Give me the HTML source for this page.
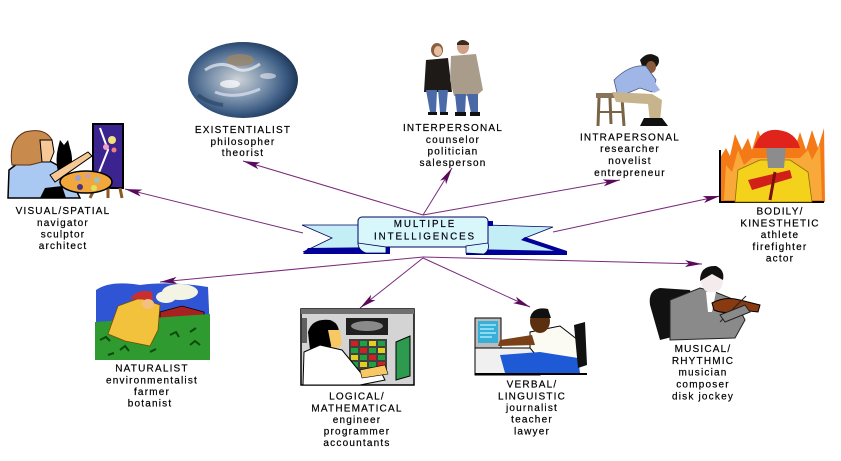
<!DOCTYPE html>
<html><head><meta charset="utf-8"><style>
html,body{margin:0;padding:0;background:#fff;}
svg{display:block}
text{font-family:"Liberation Sans",Arial,sans-serif;font-size:10px;letter-spacing:1.2px;fill:#000;stroke:#000;stroke-width:0.2px;text-anchor:middle}
</style></head><body>
<svg width="841" height="461" viewBox="0 0 841 461" xmlns="http://www.w3.org/2000/svg">
<defs>
<marker id="ah" markerUnits="userSpaceOnUse" markerWidth="18" markerHeight="8" refX="17" refY="4" orient="auto">
<path d="M0,0.5 L17,4 L0,7.5 L4,4 Z" fill="#5a0a5a"/>
</marker>
<radialGradient id="gg" cx="0.45" cy="0.5" r="0.55">
<stop offset="0" stop-color="#d0d4d8"/>
<stop offset="0.45" stop-color="#7d93ad"/>
<stop offset="0.8" stop-color="#3a5a82"/>
<stop offset="1" stop-color="#1e3656"/>
</radialGradient>
</defs>
<rect width="841" height="461" fill="#fff"/>

<!-- connectors -->
<g stroke="#7a2a7a" stroke-width="1" fill="none" marker-end="url(#ah)">
<line x1="423" y1="215" x2="243" y2="161"/>
<line x1="303" y1="233" x2="125" y2="189"/>
<line x1="423" y1="215" x2="452" y2="168"/>
<line x1="423" y1="215" x2="620" y2="180"/>
<line x1="553" y1="232" x2="720" y2="196"/>
<line x1="423" y1="257" x2="160" y2="282"/>
<line x1="423" y1="258" x2="360" y2="308"/>
<line x1="423" y1="258" x2="530" y2="307"/>
<line x1="423" y1="257" x2="702" y2="264"/>
</g>

<!-- ribbon -->
<path d="M302,225 L362,225 L362,250 L303,252 L332,238 Z" fill="#c4eef6" stroke="#000066" stroke-width="0.8"/>
<path d="M308,248 L390,247 L390,254 L303,254 Z" fill="#000099"/>
<path d="M486,225 L553,227 L525,238 L567,253 L486,253 Z" fill="#c4eef6" stroke="#000066" stroke-width="0.8"/>
<path d="M525,237 L567,251 L567,255 L521,240 Z" fill="#000099"/>
<path d="M466,249 L567,251 L567,255 L466,255 Z" fill="#000099"/>
<rect x="358" y="217" width="130" height="30" rx="4" fill="#d8f7fa" stroke="#000066" stroke-width="1"/>
<rect x="488" y="221" width="5" height="5" fill="#000099"/>
<path d="M358,243 L386,247 L386,253 L366,253 Q358,250 358,243Z" fill="#d8f7fa" stroke="#000066" stroke-width="0.8"/>
<path d="M488,243 L466,246 L466,253 L484,254 Q490,250 488,243Z" fill="#d8f7fa" stroke="#000066" stroke-width="0.8"/>
<text x="425" y="227" style="font-size:9.8px;letter-spacing:1.9px;fill:#000022">MULTIPLE</text>
<text x="425" y="239.5" style="font-size:9.8px;letter-spacing:1.9px;fill:#000022">INTELLIGENCES</text>

<!-- globe -->
<ellipse cx="243" cy="80" rx="55" ry="38" fill="url(#gg)"/>
<ellipse cx="240" cy="60" rx="14" ry="6" fill="#9a8468" opacity=".8"/>
<path d="M205,70 q15,-10 30,-2 q10,6 25,-4" stroke="#fff" stroke-width="3" fill="none" opacity=".6"/>
<path d="M215,92 q20,8 45,-3" stroke="#eef" stroke-width="3" fill="none" opacity=".6"/>
<ellipse cx="230" cy="84" rx="10" ry="4" fill="#fff" opacity=".7"/>
<ellipse cx="268" cy="76" rx="8" ry="3" fill="#fff" opacity=".5"/>
<path d="M198,95 q10,8 25,10" stroke="#24405f" stroke-width="4" fill="none" opacity=".6"/>

<!-- visual/spatial -->
<rect x="93" y="124" width="30" height="64" fill="#3b2490" stroke="#000" stroke-width="2"/>
<path d="M100,128 L108,150 L98,175" stroke="#fff" stroke-width="2" fill="none"/>
<circle cx="112" cy="140" r="4" fill="#f2e27a"/><circle cx="106" cy="147" r="3" fill="#f0a0c0"/><circle cx="114" cy="150" r="2.5" fill="#f08080"/>
<path d="M95,188 L90,198 M120,188 L122,198 M108,188 L108,198" stroke="#8a5a20" stroke-width="3"/>
<path d="M8,198 L9,170 L22,160 L48,160 L66,170 L80,198 Z" fill="#a9c8f2" stroke="#000" stroke-width="1.5"/>
<path d="M12,165 Q8,140 25,132 Q45,127 52,140 L50,160 L30,165 Z" fill="#c98a4e" stroke="#5a3010" stroke-width="1"/>
<path d="M40,140 L52,140 L54,152 L50,162 L42,162 Z" fill="#f6c896" stroke="#000" stroke-width="1"/>
<path d="M58,148 L60,140 L64,145 L68,140 L70,148 Q74,160 70,172 L58,172 Q55,160 58,148Z" fill="#000"/>
<path d="M50,175 L88,152 L92,156 L55,182 Z" fill="#f6c896" stroke="#000" stroke-width="1"/>
<ellipse cx="86" cy="182" rx="26" ry="11" fill="#f0a83c" stroke="#000" stroke-width="1.5"/>
<circle cx="78" cy="178" r="3" fill="#a0a0d0"/><circle cx="88" cy="176" r="3" fill="#d0a0a0"/>
<circle cx="97" cy="180" r="3" fill="#a0c0c0"/><circle cx="80" cy="187" r="3" fill="#503080"/><circle cx="94" cy="188" r="3" fill="#e0e060"/>
<path d="M45,188 L62,186 L66,198 L40,198 Z" fill="#000"/>

<!-- interpersonal -->
<ellipse cx="437" cy="50" rx="6" ry="7" fill="#8a6040"/>
<ellipse cx="438" cy="51" rx="4" ry="5" fill="#e8c0a0"/>
<path d="M426,60 L448,58 L452,92 L424,92 Z" fill="#1e1a18"/>
<path d="M426,90 L437,90 L436,112 L430,112 Z M438,90 L448,90 L446,112 L440,112 Z" fill="#4a6aa8"/>
<ellipse cx="463" cy="47" rx="6" ry="7" fill="#d0a088"/>
<path d="M457,43 q5,-6 12,0 v2 h-12z" fill="#3a2a20"/>
<path d="M451,56 L476,54 L483,90 L476,96 L454,96 L450,80 Z" fill="#aa9c8a"/>
<path d="M455,94 L466,94 L465,113 L457,113 Z M467,94 L478,94 L478,113 L471,113 Z" fill="#4a68a6"/>
<path d="M428,112 h9 v3 h-9z M440,112 h8 v3 h-8z M455,112 h11 v4 h-11z M470,112 h10 v4 h-10z" fill="#111"/>

<!-- intrapersonal -->
<path d="M640,60 q8,-10 18,-3 q3,6 -3,11 l-12,1 z" fill="#1a1410"/>
<ellipse cx="651" cy="67" rx="5" ry="6" fill="#8a5a3a"/>
<path d="M614,80 Q630,64 646,66 L656,80 L652,92 L640,88 L618,97 Z" fill="#9fb6e6" stroke="#4a5a80" stroke-width="0.8"/>
<path d="M646,70 L660,90 L654,93 L642,78Z" fill="#9fb6e6"/>
<rect x="596" y="93" width="30" height="5" fill="#8a7458"/>
<path d="M599,98 L598,126 M622,98 L624,126 M610,98 L611,124" stroke="#7a6448" stroke-width="3"/>
<path d="M599,112 H623" stroke="#7a6448" stroke-width="2"/>
<path d="M612,92 L652,94 L662,100 L660,122 L650,122 L648,104 L616,102 Z" fill="#c8b48c"/>
<path d="M644,118 L662,118 L668,126 L640,126Z" fill="#111"/>

<!-- bodily -->
<path d="M720,202 L720,158 L726,148 L730,156 L735,134 L742,150 L748,138 L752,150 L758,130 L764,146 L772,132 L790,135 L795,148 L800,132 L806,150 L812,130 L818,148 L824,128 L825,202 Z" fill="#f47a18"/>
<path d="M724,200 L726,165 L732,172 L738,150 L744,165 L752,158 L800,158 L808,150 L812,160 L820,145 L822,200 Z" fill="#f9a83a"/>
<path d="M720,150 V202 H824" stroke="#000" stroke-width="2" fill="none"/>
<path d="M735,202 L738,170 L760,160 L790,160 L808,172 L812,202 Z" fill="#f4d21c" stroke="#8a7000" stroke-width="0.8"/>
<path d="M766,145 L786,145 L784,168 L768,168Z" fill="#8c8c8c"/>
<path d="M754,148 Q760,128 778,130 Q796,132 800,148 Z" fill="#e0241c"/>
<path d="M748,180 L790,170 L792,178 L752,190 Z" fill="#d02018"/>
<path d="M775,172 L770,200" stroke="#7a1010" stroke-width="3"/>

<!-- naturalist -->
<path d="M96,290 Q110,280 140,285 Q170,281 208,287 L210,332 L96,332 Z" fill="#2f55d4"/>
<ellipse cx="180" cy="292" rx="18" ry="8" fill="#f4f4e4"/>
<ellipse cx="166" cy="297" rx="10" ry="6" fill="#f4f4e4"/>
<path d="M160,312 L182,306 L204,312 L204,326 L160,326 Z" fill="#a82020" stroke="#000" stroke-width="0.8"/>
<path d="M95,322 L210,314 L210,360 L95,360 Z" fill="#2f9a2f"/>
<path d="M100,340 l6,-3 l4,4 M120,350 l5,-4 l4,5 M170,335 l6,-3 l3,5 M190,345 l5,-4 l5,4 M150,352 l6,-3 M108,355 l6,-2 M196,328 l-6,4" stroke="#0c4a0c" stroke-width="2" fill="none"/>
<path d="M108,334 L118,306 L140,298 L160,305 L158,330 L150,346 L125,341 Z" fill="#f2c23c" stroke="#7a4a00" stroke-width="0.8"/>
<path d="M130,299 Q138,288 152,292 L153,300 Z" fill="#c83030"/>
<ellipse cx="148" cy="304" rx="6" ry="5" fill="#f2c080"/>

<!-- logical -->
<rect x="301" y="309" width="113" height="76" fill="#d4d4d4" stroke="#000" stroke-width="1.5"/>
<rect x="301" y="309" width="113" height="5" fill="#707070"/>
<rect x="346" y="318" width="42" height="17" fill="#202020"/>
<ellipse cx="367" cy="326" rx="16" ry="5" fill="#8a8a8a"/>
<rect x="349" y="339" width="38" height="32" fill="#404040"/>
<g>
<rect x="351" y="341" width="7" height="5" fill="#d02020"/><rect x="360" y="341" width="7" height="5" fill="#20a040"/><rect x="369" y="341" width="7" height="5" fill="#e0d020"/><rect x="378" y="341" width="7" height="5" fill="#20a040"/>
<rect x="351" y="348" width="7" height="5" fill="#20a040"/><rect x="360" y="348" width="7" height="5" fill="#d02020"/><rect x="369" y="348" width="7" height="5" fill="#20a040"/><rect x="378" y="348" width="7" height="5" fill="#e0d020"/>
<rect x="351" y="355" width="7" height="5" fill="#e0d020"/><rect x="360" y="355" width="7" height="5" fill="#20a040"/><rect x="369" y="355" width="7" height="5" fill="#d02020"/><rect x="378" y="355" width="7" height="5" fill="#20a040"/>
<rect x="351" y="362" width="7" height="5" fill="#20a040"/><rect x="360" y="362" width="7" height="5" fill="#e0d020"/><rect x="369" y="362" width="7" height="5" fill="#20a040"/><rect x="378" y="362" width="7" height="5" fill="#d02020"/>
</g>
<path d="M396,342 L410,336 L410,376 L396,380 Z" fill="#2e9a50" stroke="#000"/>
<rect x="302" y="318" width="5" height="25" fill="#606060"/>
<path d="M308,332 Q312,318 330,320 Q342,324 338,340 L325,352 L310,350 Z" fill="#000"/>
<path d="M328,330 L340,330 L342,345 L332,350 Z" fill="#f8c864"/>
<path d="M303,385 L304,352 L320,345 L342,350 L360,372 L380,370 L385,380 L360,385 Z" fill="#fff" stroke="#000"/>
<path d="M360,370 L385,365 L388,374 L362,378Z" fill="#f8c864" stroke="#000" stroke-width="0.6"/>

<!-- verbal -->
<rect x="475" y="318" width="26" height="30" fill="#bbb" stroke="#000"/>
<rect x="478" y="321" width="20" height="22" fill="#36b0d8"/>
<path d="M480,325 h16 M480,329 h14 M480,333 h16 M480,337 h12" stroke="#a8e8f8" stroke-width="1.5"/>
<path d="M475,348 L535,348 L540,375 L475,375 Z" fill="#f0f0f0" stroke="#000"/>
<path d="M530,332 L560,326 L578,340 L580,362 L540,360 L530,348 Z" fill="#fbfbf4" stroke="#000"/>
<ellipse cx="540" cy="321" rx="10" ry="12" fill="#5a3010"/>
<path d="M530,318 Q533,306 548,309 L551,318 Z" fill="#111"/>
<path d="M532,335 L500,340 L498,346 L535,345 Z" fill="#7a4018"/>
<path d="M500,355 L540,352 L578,358 L580,373 L505,373 Z" fill="#1e5ad6"/>
<path d="M574,325 L585,322 L587,365 L578,368 Z" fill="#111"/>
<rect x="475" y="373" width="112" height="2" fill="#000"/>

<!-- musical -->
<path d="M650,305 Q648,290 660,288 L690,290 L700,330 L660,340 Z" fill="#111"/>
<path d="M670,300 L700,288 L715,292 L735,300 L745,320 L735,338 L670,340 Z" fill="#8a8a8a" stroke="#222"/>
<ellipse cx="712" cy="281" rx="11" ry="12" fill="#f4ecec"/>
<path d="M700,281 Q700,265 716,266 Q725,270 723,280 L712,274 Z" fill="#111"/>
<path d="M706,292 L716,292 L712,312 L708,312 Z" fill="#fff"/>
<path d="M712,303 Q725,296 740,300 L760,305 L758,312 L740,310 Q725,315 714,310 Z" fill="#8a3a10" stroke="#000"/>
<path d="M720,322 L746,296" stroke="#222" stroke-width="1"/>
<path d="M720,315 L745,305 L750,312 L725,322 Z" fill="#8a8a8a" stroke="#222"/>

<!-- labels -->
<text x="63" y="214">VISUAL/SPATIAL</text>
<text x="63" y="226">navigator</text>
<text x="63" y="237.5">sculptor</text>
<text x="63" y="249">architect</text>

<text x="243" y="133">EXISTENTIALIST</text>
<text x="243" y="145">philosopher</text>
<text x="243" y="156">theorist</text>

<text x="453" y="131">INTERPERSONAL</text>
<text x="453" y="143">counselor</text>
<text x="453" y="154.5">politician</text>
<text x="453" y="166">salesperson</text>

<text x="630" y="140.5">INTRAPERSONAL</text>
<text x="630" y="152">researcher</text>
<text x="630" y="164">novelist</text>
<text x="630" y="176">entrepreneur</text>

<text x="780" y="214.5">BODILY/</text>
<text x="780" y="226.5">KINESTHETIC</text>
<text x="780" y="238">athlete</text>
<text x="780" y="250">firefighter</text>
<text x="780" y="261.5">actor</text>

<text x="152" y="371.5">NATURALIST</text>
<text x="152" y="383.5">environmentalist</text>
<text x="152" y="395">farmer</text>
<text x="150" y="406.5">botanist</text>

<text x="357" y="399.5">LOGICAL/</text>
<text x="357" y="411.5">MATHEMATICAL</text>
<text x="357" y="423">engineer</text>
<text x="357" y="434.5">programmer</text>
<text x="357" y="446">accountants</text>

<text x="532" y="387.5">VERBAL/</text>
<text x="532" y="399.5">LINGUISTIC</text>
<text x="532" y="411">journalist</text>
<text x="532" y="422.5">teacher</text>
<text x="532" y="434.5">lawyer</text>

<text x="703" y="352">MUSICAL/</text>
<text x="703" y="364">RHYTHMIC</text>
<text x="703" y="375.5">musician</text>
<text x="703" y="387.5">composer</text>
<text x="703" y="399.5">disk jockey</text>
</svg>
</body></html>
